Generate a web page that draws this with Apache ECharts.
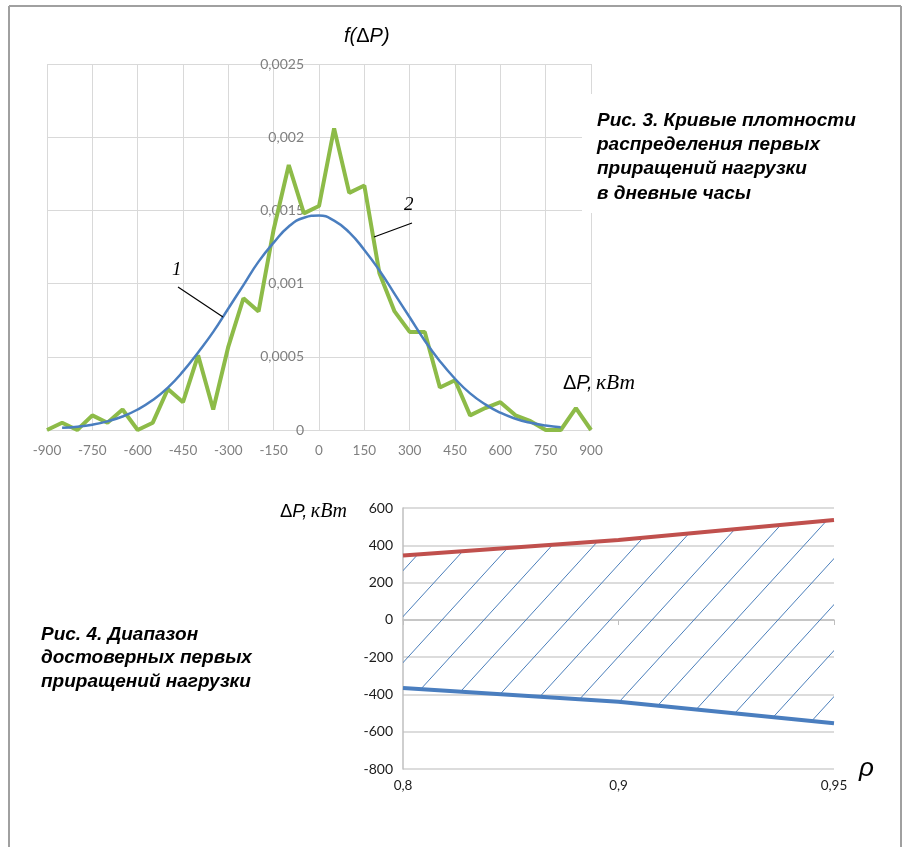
<!DOCTYPE html>
<html>
<head>
<meta charset="utf-8">
<script src="https://cdn.jsdelivr.net/npm/echarts@6/dist/echarts.min.js"></script>
<style>
html,body{margin:0;padding:0;background:#fff;}
#c{width:907px;height:847px;}
</style>
</head>
<body>
<div id="c"></div>
<script>
// ---- Fig. 3 data ----
const dpEmp = [-900,-850,-800,-750,-700,-650,-600,-550,-500,-450,-400,-350,-300,-250,-200,-150,-100,-50,0,50,100,150,200,250,300,350,400,450,500,550,600,650,700,750,800,850,900];
const fEmp = [0,0.00005,0,0.0001,0.00005,0.00014,0,0.00005,0.00028,0.00019,0.00051,0.00014,0.00057,0.0009,0.00081,0.00137,0.00181,0.00148,0.00153,0.00206,0.00162,0.00167,0.00107,0.00081,0.00067,0.00067,0.00029,0.00034,0.0001,0.00015,0.00019,0.0001,0.00006,0,0,0.00015,0];
const dpTheor = [-850,-800,-750,-700,-650,-600,-550,-500,-450,-400,-350,-300,-250,-200,-150,-100,-50,0,50,100,150,200,250,300,350,400,450,500,550,600,650,700,750,800];
const fTheor = [0.000015,0.000022,0.000036,0.000059,0.000092,0.00014,0.000205,0.00029,0.0004,0.00053,0.00067,0.00083,0.00099,0.00115,0.00128,0.00139,0.00145,0.001465,0.00143,0.00135,0.00123,0.00109,0.00093,0.00077,0.00061,0.00047,0.00035,0.00025,0.000175,0.000118,0.000077,0.000049,0.00003,0.000018];
// ---- Fig. 4 data ----
const rho = ['0,8','0,9','0,95'];
const dpUpper = [345, 428, 536];
const dpLower = [-366, -439, -554];

const caption3 = ['Рис. 3. Кривые плотности','распределения первых','приращений нагрузки','в дневные часы'];
const caption4 = ['Рис. 4. Диапазон','достоверных первых','приращений нагрузки'];

function hatch(){
  const w = 42, h = 46;
  const cv = document.createElement('canvas');
  cv.width = w; cv.height = h;
  const ctx = cv.getContext('2d');
  ctx.strokeStyle = '#4a7ebb';
  ctx.lineWidth = 1;
  for (const o of [-w, 0, w]) {
    ctx.beginPath();
    ctx.moveTo(o, h);
    ctx.lineTo(o + w, 0);
    ctx.stroke();
  }
  return cv;
}

const chart = echarts.init(document.getElementById('c'), null, {renderer: 'canvas'});
const grayLbl = '#7f7f7f';
const lblFont = 'Lato, "Open Sans", sans-serif';
const band = dpUpper.map((v, i) => v - dpLower[i]);
const capFont = 'italic bold 19px "Liberation Sans", Arial, sans-serif';

const option = {
  animation: false,
  backgroundColor: '#fff',
  grid: [
    {left: 47, top: 64, width: 544, height: 366},
    {left: 403, top: 508, width: 431, height: 261}
  ],
  xAxis: [
    {
      gridIndex: 0, type: 'value', min: -900, max: 900, interval: 150,
      axisLine: {show: true, onZero: false, lineStyle: {color: '#d9d9d9'}},
      axisTick: {show: false},
      splitLine: {show: true, lineStyle: {color: '#d9d9d9', width: 1}},
      axisLabel: {color: grayLbl, fontSize: 13.5, fontFamily: lblFont, margin: 14}
    },
    {
      gridIndex: 1, type: 'category', data: rho, boundaryGap: false, position: 'bottom',
      axisLine: {show: false, onZero: false}, axisTick: {show: false}, splitLine: {show: false},
      axisLabel: {color: '#1a1a1a', fontSize: 13.5, fontFamily: lblFont, margin: 10}
    },
    {
      gridIndex: 1, type: 'category', data: rho, boundaryGap: false, position: 'top', offset: -112,
      axisLine: {show: true, onZero: false, lineStyle: {color: '#bfbfbf', width: 1.5}},
      axisTick: {show: true, inside: true, length: 5, lineStyle: {color: '#bfbfbf'}},
      axisLabel: {show: false}, splitLine: {show: false}
    }
  ],
  yAxis: [
    {
      gridIndex: 0, type: 'value', min: 0, max: 0.0025, interval: 0.0005, offset: -272,
      axisLine: {show: false, onZero: false},
      axisTick: {show: false},
      splitLine: {show: true, lineStyle: {color: '#d9d9d9', width: 1}},
      axisLabel: {color: grayLbl, fontSize: 14, fontFamily: lblFont, margin: 15,
        formatter: v => String(v).replace('.', ',')}
    },
    {
      gridIndex: 1, type: 'value', min: -800, max: 600, interval: 200,
      axisLine: {show: true, onZero: false, lineStyle: {color: '#bfbfbf', width: 1.5}},
      axisTick: {show: false},
      splitLine: {show: true, lineStyle: {color: '#d0d0d0', width: 1.5}},
      axisLabel: {color: '#1a1a1a', fontSize: 14, fontFamily: lblFont, margin: 10}
    }
  ],
  series: [
    {
      type: 'line', xAxisIndex: 0, yAxisIndex: 0, name: 'emp',
      data: dpEmp.map((x, i) => [x, fEmp[i]]),
      symbol: 'none', smooth: false,
      lineStyle: {color: '#8dbb48', width: 4}, z: 3
    },
    {
      type: 'line', xAxisIndex: 0, yAxisIndex: 0, name: 'theor',
      data: dpTheor.map((x, i) => [x, fTheor[i]]),
      symbol: 'none', smooth: 0.5,
      lineStyle: {color: '#4a7ebf', width: 2.5}, z: 4
    },
    {
      type: 'line', xAxisIndex: 1, yAxisIndex: 1, name: 'lower', stack: 'band', stackStrategy: 'all',
      data: dpLower, symbol: 'none',
      lineStyle: {color: '#4a7ebf', width: 4}, z: 5
    },
    {
      type: 'line', xAxisIndex: 1, yAxisIndex: 1, name: 'band', stack: 'band', stackStrategy: 'all',
      data: band, symbol: 'none',
      lineStyle: {width: 0, opacity: 0},
      areaStyle: {color: {image: hatch(), repeat: 'repeat'}, opacity: 1},
      z: 2
    },
    {
      type: 'line', xAxisIndex: 1, yAxisIndex: 1, name: 'upper',
      data: dpUpper, symbol: 'none',
      lineStyle: {color: '#c0504d', width: 4}, z: 5
    }
  ],
  graphic: [
    // frame
    {type: 'line', shape: {x1: 9, y1: 6, x2: 901, y2: 6}, style: {stroke: '#a0a0a0', lineWidth: 2}, z: 20},
    {type: 'line', shape: {x1: 9, y1: 6, x2: 9, y2: 847}, style: {stroke: '#a0a0a0', lineWidth: 2}, z: 20},
    {type: 'line', shape: {x1: 901, y1: 6, x2: 901, y2: 847}, style: {stroke: '#a0a0a0', lineWidth: 2}, z: 20},
    // caption box
    {type: 'rect', shape: {x: 582, y: 94, width: 300, height: 119}, style: {fill: '#fff'}, z: 10},
    {type: 'text', left: 597, top: 109, z: 11, style: {
      text: caption3.join('\n'), font: capFont, lineHeight: 24.1, fill: '#000'}},
    {type: 'text', left: 41, top: 623, z: 11, style: {
      text: caption4.join('\n'), font: capFont, lineHeight: 23.5, fill: '#000'}},
    // axis titles top
    {type: 'text', left: 344, top: 26, z: 11, style: {
      text: '{a|f(}{b|Δ}{a|P)}', rich: {
        a: {font: 'italic 20px "Liberation Sans", Arial, sans-serif', fill: '#000'},
        b: {font: '20px "Liberation Sans", Arial, sans-serif', fill: '#000'}}}},
    {type: 'text', left: 563, top: 372, z: 11, style: {
      text: '{b|Δ}{a|P,} {c|кВт}', rich: {
        a: {font: 'italic 20px "Liberation Sans", Arial, sans-serif', fill: '#000'},
        b: {font: '20px "Liberation Sans", Arial, sans-serif', fill: '#000'},
        c: {font: 'italic 21.5px "Liberation Serif", "Times New Roman", serif', fill: '#000'}}}},
    // curve labels
    {type: 'text', left: 172, top: 260, z: 11, style: {text: '1', font: 'italic 19px "Liberation Serif", serif', fill: '#000'}},
    {type: 'line', shape: {x1: 178, y1: 287, x2: 223, y2: 317}, style: {stroke: '#000', lineWidth: 1.2}, z: 11},
    {type: 'text', left: 404, top: 195, z: 11, style: {text: '2', font: 'italic 19px "Liberation Serif", serif', fill: '#000'}},
    {type: 'line', shape: {x1: 412, y1: 223, x2: 374, y2: 237}, style: {stroke: '#000', lineWidth: 1.2}, z: 11},
    // axis titles bottom
    {type: 'text', left: 280, top: 502, z: 11, style: {
      text: '{b|Δ}{a|P,} {c|кВт}', rich: {
        a: {font: 'italic 18.5px "Liberation Sans", Arial, sans-serif', fill: '#000'},
        b: {font: '18.5px "Liberation Sans", Arial, sans-serif', fill: '#000'},
        c: {font: 'italic 20px "Liberation Serif", "Times New Roman", serif', fill: '#000'}}}},
    {type: 'text', left: 859, top: 756, z: 11, style: {text: 'ρ', font: 'italic 26px "Liberation Sans", Arial, sans-serif', fill: '#000'}}
  ]
};
chart.setOption(option);
</script>
</body>
</html>
